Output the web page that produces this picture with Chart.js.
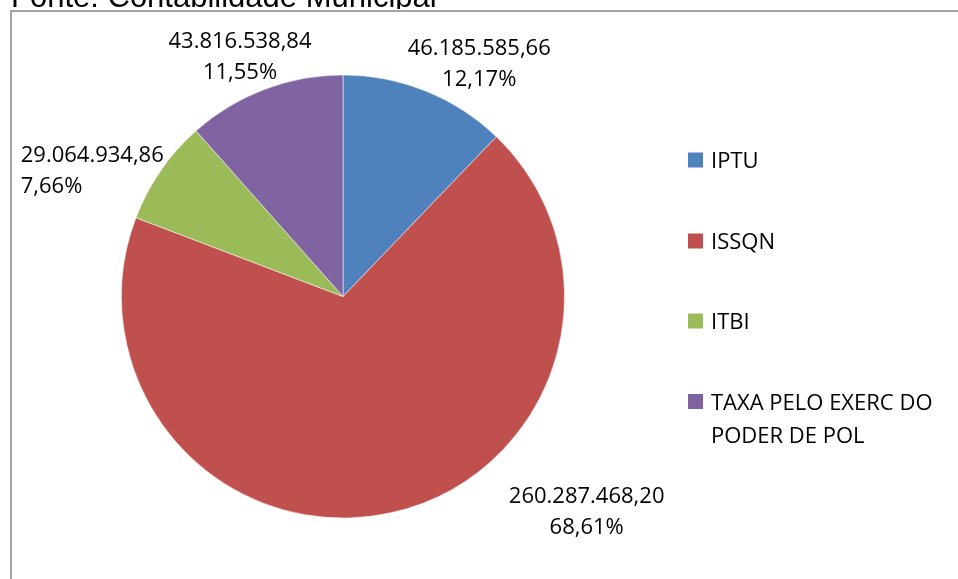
<!DOCTYPE html>
<html>
<head>
<meta charset="utf-8">
<script src="https://cdn.jsdelivr.net/npm/chart.js@4.4.1/dist/chart.umd.min.js"></script>
<style>
  html, body { margin: 0; padding: 0; background: #ffffff; }
  #wrap { position: relative; width: 958px; height: 579px; overflow: hidden; }
  canvas { display: block; }
</style>
</head>
<body>
<div id="wrap"><canvas id="c" width="958" height="579"></canvas></div>
<script>
// ---- data ----
const categories = ['IPTU', 'ISSQN', 'ITBI', 'TAXA PELO EXERC DO PODER DE POL'];
const legendLines = [['IPTU'], ['ISSQN'], ['ITBI'], ['TAXA PELO EXERC DO', 'PODER DE POL']];
const values = [46185585.66, 260287468.20, 29064934.86, 43816538.84];
const valueLabels = ['46.185.585,66', '260.287.468,20', '29.064.934,86', '43.816.538,84'];
const percentLabels = ['12,17%', '68,61%', '7,66%', '11,55%'];
const colors = ['#4F81BD', '#C0504D', '#9BBB59', '#8064A2'];
const titleText = 'Fonte: Contabilidade Municipal';

// label placement relative to pie centre, in units of radius (layout only)
const labelOffsets = [
  { dx: 0.615, dy: -1.055, align: 'center' },
  { dx: 1.10,  dy: 0.965,  align: 'center' },
  { dx: -1.455, dy: -0.575, align: 'left' },
  { dx: -0.465, dy: -1.09, align: 'center' }
];

const labelFont = '22px "Open Sans", "Noto Sans", sans-serif';

const overlay = {
  id: 'overlay',
  afterDraw(chart) {
    const ctx = chart.ctx;
    const meta = chart.getDatasetMeta(0);
    ctx.save();
    // frame
    ctx.strokeStyle = '#a3a3a3';
    ctx.lineWidth = 2;
    ctx.beginPath();
    ctx.moveTo(11, 579);
    ctx.lineTo(11, 11);
    ctx.lineTo(958, 11);
    ctx.stroke();

    // clipped title above frame
    ctx.save();
    ctx.beginPath();
    ctx.rect(0, 0, 958, 9);
    ctx.clip();
    ctx.fillStyle = '#000';
    ctx.font = '31px "Liberation Sans", Arial, sans-serif';
    ctx.textAlign = 'left';
    ctx.textBaseline = 'alphabetic';
    ctx.fillText(titleText, 11, 7);
    ctx.restore();

    // data labels
    ctx.fillStyle = '#000';
    ctx.font = labelFont;
    ctx.textBaseline = 'alphabetic';
    meta.data.forEach((arc, i) => {
      const p = arc.getProps(['x', 'y', 'outerRadius'], true);
      const o = labelOffsets[i];
      const cx = p.x + o.dx * p.outerRadius;
      const cy = p.y + o.dy * p.outerRadius;
      const lines = [valueLabels[i], percentLabels[i]];
      const lh = 31;
      lines.forEach((t, k) => {
        const midY = cy + (k - 0.5) * lh;
        const w = ctx.measureText(t).width;
        let x = o.align === 'left' ? cx : cx - w / 2;
        ctx.textAlign = 'left';
        ctx.fillText(t, x, midY + 8);
      });
    });

    // legend
    const lgX = 688, lgTextX = 711;
    const lgY = [160, 241, 321, 401.5];
    legendLines.forEach((lines, i) => {
      ctx.fillStyle = colors[i];
      ctx.fillRect(lgX, lgY[i] - 7.5, 15, 15);
      ctx.fillStyle = '#000';
      lines.forEach((t, k) => {
        ctx.fillText(t, lgTextX, lgY[i] + k * 33.5 + 8);
      });
    });
    ctx.restore();
  }
};

new Chart(document.getElementById('c'), {
  type: 'pie',
  data: {
    labels: categories,
    datasets: [{
      data: values,
      backgroundColor: colors,
      borderColor: 'rgba(255,255,255,0.5)',
      borderWidth: 1
    }]
  },
  options: {
    responsive: false,
    animation: false,
    rotation: 0,
    layout: { padding: { left: 121, right: 393, top: 74, bottom: 60 } },
    plugins: {
      legend: { display: false },
      tooltip: { enabled: false },
      title: { display: false }
    }
  },
  plugins: [overlay]
});
</script>
</body>
</html>
